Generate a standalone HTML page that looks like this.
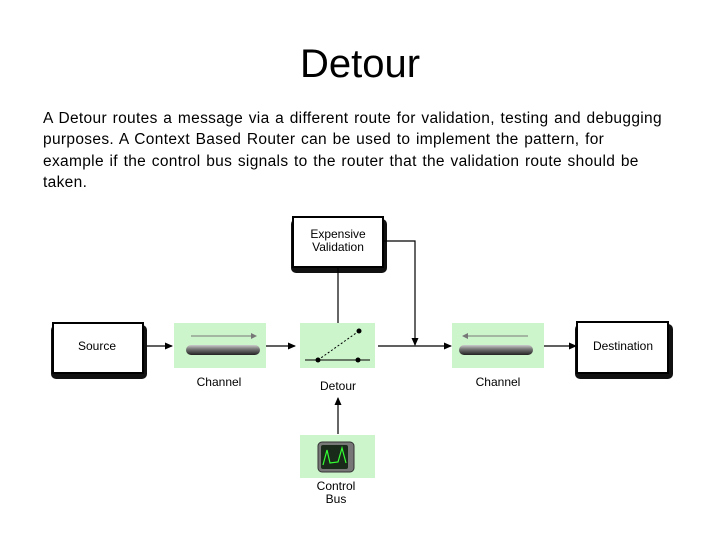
<!DOCTYPE html>
<html><head><style>
body{margin:0;width:720px;height:540px;background:#fff;overflow:hidden;position:relative;font-family:"Liberation Sans",sans-serif}
.t{position:absolute;left:0;width:720px;text-align:center;top:42px;font-size:40px;font-family:"Liberation Sans",sans-serif}
.p{position:absolute;left:43px;top:108px;white-space:nowrap;font-size:15.5px;letter-spacing:0.33px;word-spacing:1px;line-height:21.3px;color:#000}
</style></head><body>
<div class="t">Detour</div>
<div class="p">A Detour routes a message via a different route for validation, testing and debugging<br>purposes. A Context Based Router can be used to implement the pattern, for<br>example if the control bus signals to the router that the validation route should be<br>taken.</div>
<svg width="720" height="540" style="position:absolute;left:0;top:0" font-family="Liberation Sans,sans-serif" font-size="12">
<defs>
<marker id="a" markerWidth="8" markerHeight="8" refX="7" refY="4" orient="auto" markerUnits="userSpaceOnUse"><path d="M0,0.5L8,4L0,7.5z"/></marker>
<linearGradient id="g" x1="0" y1="0" x2="0" y2="1"><stop offset="0" stop-color="#ccc"/><stop offset="0.4" stop-color="#777"/><stop offset="1" stop-color="#222"/></linearGradient>
</defs>
<rect x="51" y="325" width="96" height="54" rx="5" fill="#111"/>
<rect x="53" y="323" width="90" height="50" fill="#fff" stroke="#000" stroke-width="2"/>
<text x="97" y="350" text-anchor="middle">Source</text>
<rect x="291" y="219" width="96" height="54" rx="5" fill="#111"/>
<rect x="293" y="217" width="90" height="50" fill="#fff" stroke="#000" stroke-width="2"/>
<text x="338" y="238" text-anchor="middle">Expensive</text>
<text x="338" y="251" text-anchor="middle">Validation</text>
<rect x="575" y="324" width="98" height="55" rx="5" fill="#111"/>
<rect x="577" y="322" width="91" height="51" fill="#fff" stroke="#000" stroke-width="2"/>
<text x="623" y="350" text-anchor="middle">Destination</text>
<rect x="174" y="323" width="92" height="45" fill="#ccf5cc"/>
<line x1="191" y1="336" x2="255" y2="336" stroke="#777"/><path d="M251,333L257,336L251,339z" fill="#777"/>
<rect x="186" y="345" width="74" height="10" rx="5" fill="url(#g)"/>
<text x="219" y="386" text-anchor="middle">Channel</text>
<rect x="452" y="323" width="92" height="45" fill="#ccf5cc"/>
<line x1="464" y1="336" x2="528" y2="336" stroke="#777"/><path d="M468,333L462,336L468,339z" fill="#777"/>
<rect x="459" y="345" width="74" height="10" rx="5" fill="url(#g)"/>
<text x="498" y="386" text-anchor="middle">Channel</text>
<rect x="300" y="323" width="75" height="45" fill="#ccf5cc"/>
<line x1="305" y1="360" x2="370" y2="360" stroke="#000"/>
<line x1="318" y1="360" x2="359" y2="331" stroke="#000" stroke-dasharray="2,2"/>
<circle cx="318" cy="360" r="2.5"/><circle cx="358" cy="360" r="2.5"/><circle cx="359" cy="331" r="2.5"/>
<text x="338" y="390" text-anchor="middle">Detour</text>
<rect x="300" y="435" width="75" height="43" fill="#ccf5cc"/>
<rect x="318" y="442" width="36" height="30" rx="4" fill="#777" stroke="#333"/>
<rect x="321" y="445" width="27" height="24" rx="2" fill="#1a2a1a"/>
<path d="M323,465L327,450L330,463L338,462L342,448L346,463" stroke="#3f3" fill="none" stroke-width="1.2"/>
<text x="336" y="490" text-anchor="middle">Control</text>
<text x="336" y="503" text-anchor="middle">Bus</text>
<g stroke="#000" stroke-width="1.2" fill="none">
<line x1="147" y1="346" x2="172" y2="346" marker-end="url(#a)"/>
<line x1="266" y1="346" x2="295" y2="346" marker-end="url(#a)"/>
<line x1="378" y1="346" x2="451" y2="346" marker-end="url(#a)"/>
<line x1="544" y1="346" x2="576" y2="346" marker-end="url(#a)"/>
<line x1="338" y1="268" x2="338" y2="323"/>
<polyline points="384,241 415,241 415,345" marker-end="url(#a)"/>
<line x1="338" y1="434" x2="338" y2="398" marker-end="url(#a)"/>
</g>
</svg>
</body></html>
